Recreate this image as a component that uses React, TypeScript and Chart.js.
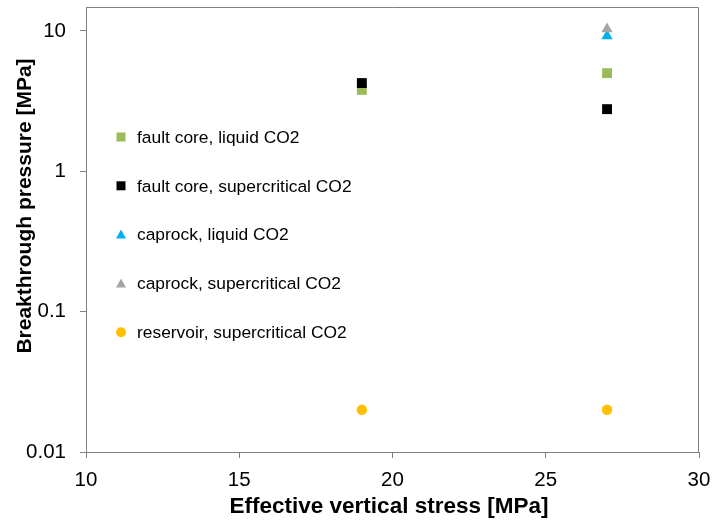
import React, { useEffect, useRef } from "react";
import { Chart, registerables } from "chart.js";

Chart.register(...registerables);

const seriesNames = [
  "fault core, liquid CO2",
  "fault core, supercritical CO2",
  "caprock, liquid CO2",
  "caprock, supercritical CO2",
  "reservoir, supercritical CO2",
];
const faultLiquidX = [19, 27];
const faultLiquidY = [3.8, 5.0];
const faultSuperX = [19, 27];
const faultSuperY = [4.25, 2.77];
const caprockLiquidX = [27];
const caprockLiquidY = [9.2];
const caprockSuperX = [27];
const caprockSuperY = [10.3];
const reservoirX = [19, 27];
const reservoirY = [0.02, 0.02];

const yTicks = [0.01, 0.1, 1, 10];
const xTicks = [10, 15, 20, 25, 30];
const xTitle = "Effective vertical stress [MPa]";
const yTitle = "Breakthrough pressure [MPa]";

const colors = ["#9BBB59", "#000000", "#00B0F0", "#A6A6A6", "#FFC000"];
const styles = ["rect", "rect", "triangle", "triangle", "circle"];
const radii = [7, 7, 6.5, 6.5, 5.2];

const toPts = (xs: number[], ys: number[]) => xs.map((x, i) => ({ x, y: ys[i] }));

export default function App() {
  const ref = useRef<HTMLCanvasElement>(null);
  useEffect(() => {
    const FONT = "'Liberation Sans', Arial, sans-serif";
    const data = [
      toPts(faultLiquidX, faultLiquidY),
      toPts(faultSuperX, faultSuperY),
      toPts(caprockLiquidX, caprockLiquidY),
      toPts(caprockSuperX, caprockSuperY),
      toPts(reservoirX, reservoirY),
    ];
    const frame = {
      id: "frame",
      afterDraw(chart: any) {
        const { ctx, chartArea: a } = chart;
        ctx.save();
        ctx.strokeStyle = "#808080";
        ctx.lineWidth = 1;
        ctx.beginPath();
        ctx.moveTo(a.left, a.top + 0.5);
        ctx.lineTo(a.right - 0.5, a.top + 0.5);
        ctx.lineTo(a.right - 0.5, a.bottom);
        ctx.stroke();
        // titles
        ctx.fillStyle = "#000";
        ctx.textAlign = "center";
        ctx.textBaseline = "middle";
        ctx.font = `bold 22.5px ${FONT}`;
        ctx.fillText(xTitle, a.left + 303, a.bottom + 55);
        ctx.save();
        ctx.translate(25, a.top + 199);
        ctx.rotate(-Math.PI / 2);
        ctx.font = `bold 21px ${FONT}`;
        ctx.fillText(yTitle, 0, 0);
        ctx.restore();
        // legend
        const lx = a.left + 35;
        const tx = a.left + 51;
        const y0 = a.top + 130;
        const dy = 48.8;
        ctx.font = `17.4px ${FONT}`;
        ctx.textBaseline = "middle";
        ctx.textAlign = "left";
        seriesNames.forEach((name, i) => {
          const y = y0 + i * dy;
          ctx.fillStyle = colors[i];
          ctx.beginPath();
          if (styles[i] === "rect") {
            ctx.rect(lx - 4.5, y - 4.5, 9, 9);
          } else if (styles[i] === "triangle") {
            ctx.moveTo(lx, y - 5);
            ctx.lineTo(lx + 5, y + 4);
            ctx.lineTo(lx - 5, y + 4);
            ctx.closePath();
          } else {
            ctx.arc(lx, y, 5, 0, Math.PI * 2);
          }
          ctx.fill();
          ctx.fillStyle = "#000";
          ctx.fillText(name, tx, y + 1);
        });
        ctx.restore();
      },
    };
    const chart = new Chart(ref.current!, {
      type: "scatter",
      data: {
        datasets: data.map((d, i) => ({
          label: seriesNames[i],
          data: d,
          backgroundColor: colors[i],
          borderColor: colors[i],
          borderWidth: 0,
          pointStyle: styles[i] as any,
          pointRadius: radii[i],
          order: 10 - i,
        })),
      },
      options: {
        animation: false,
        responsive: false,
        maintainAspectRatio: false,
        layout: { padding: { top: 7, right: 13, left: 0, bottom: 0 } },
        plugins: { legend: { display: false }, tooltip: { enabled: false } },
        scales: {
          x: {
            type: "linear",
            min: 10,
            max: 30,
            afterBuildTicks: (s: any) => {
              s.ticks = xTicks.map((v) => ({ value: v }));
            },
            afterFit: (s: any) => {
              s.height = 72;
              s.paddingLeft = 0;
              s.paddingRight = 0;
            },
            grid: {
              drawOnChartArea: false,
              drawTicks: true,
              tickLength: 6,
              color: "#808080",
            },
            border: { display: true, color: "#808080" },
            ticks: {
              color: "#000",
              padding: 10,
              font: { family: FONT, size: 20.5 },
              maxRotation: 0,
            },
          },
          y: {
            type: "logarithmic",
            min: 0.01,
            max: 14.8,
            afterBuildTicks: (s: any) => {
              s.ticks = yTicks.map((v) => ({ value: v }));
            },
            afterFit: (s: any) => {
              s.width = 86;
              s.paddingTop = 0;
              s.paddingBottom = 0;
            },
            grid: {
              drawOnChartArea: false,
              drawTicks: true,
              tickLength: 6,
              color: "#808080",
            },
            border: { display: true, color: "#808080" },
            ticks: {
              color: "#000",
              padding: 14,
              font: { family: FONT, size: 20.5 },
              callback: (v: any) => String(v),
            },
          },
        },
      },
      plugins: [frame],
    });
    return () => chart.destroy();
  }, []);
  return (
    <div style={{ position: "fixed", left: 0, top: 0, width: 712, height: 524, background: "#fff" }}>
      <canvas ref={ref} width={712} height={524} style={{ width: 712, height: 524 }} />
    </div>
  );
}
